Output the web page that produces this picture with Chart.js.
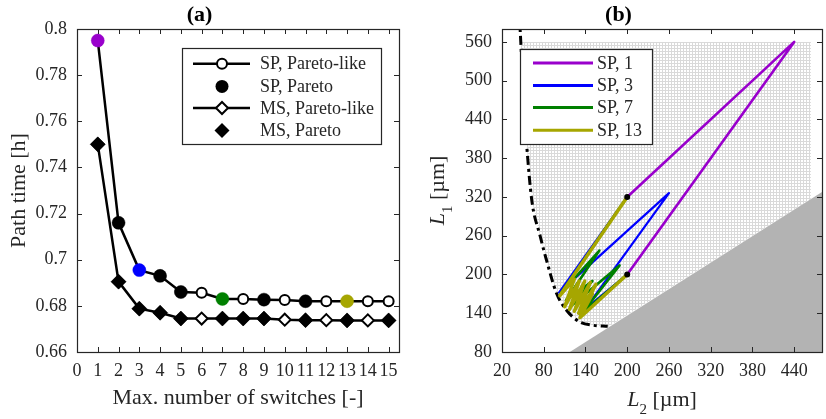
<!DOCTYPE html>
<html>
<head>
<meta charset="utf-8">
<script src="https://cdn.jsdelivr.net/npm/chart.js@4.4.1/dist/chart.umd.min.js"></script>
<style>
  html, body { margin: 0; padding: 0; background: #ffffff; }
  #wrap { position: relative; width: 826px; height: 419px; overflow: hidden; }
  .panel { position: absolute; top: 0; width: 413px; height: 419px; }
  #pa { left: 0; }
  #pb { left: 413px; }
</style>
</head>
<body>
<div id="wrap">
  <div class="panel" id="pa"><canvas id="chartA"></canvas></div>
  <div class="panel" id="pb"><canvas id="chartB"></canvas></div>
</div>
<script>
// ---------- (a) path time against the allowed number of switches ----------
const switches = [1, 2, 3, 4, 5, 6, 7, 8, 9, 10, 11, 12, 13, 14, 15];
const spTime = [0.795, 0.716, 0.6955, 0.693, 0.686, 0.6857, 0.683, 0.683, 0.6827, 0.6825, 0.682, 0.682, 0.682, 0.682, 0.682];
const msTime = [0.750, 0.6905, 0.6788, 0.677, 0.6745, 0.6745, 0.6745, 0.6745, 0.6745, 0.674, 0.6738, 0.6738, 0.6737, 0.6737, 0.6737];
const spPareto = [1, 2, 3, 4, 5, 7, 9, 11, 13];
const msPareto = [1, 2, 3, 4, 5, 7, 8, 9, 11, 13, 15];
const xTicksA = [0, 1, 2, 3, 4, 5, 6, 7, 8, 9, 10, 11, 12, 13, 14, 15];
const xTickLabelsA = ['0', '1', '2', '3', '4', '5', '6', '7', '8', '9', '10', '11', '12', '13', '14', '15'];
const yTicksA = [0.66, 0.68, 0.70, 0.72, 0.74, 0.76, 0.78, 0.80];
const yTickLabelsA = ['0.66', '0.68', '0.7', '0.72', '0.74', '0.76', '0.78', '0.8'];

// ---------- (b) switching paths in the (L2, L1) plane ----------
const sp1L2 = [200, 440, 200];
const sp1L1 = [320, 560, 200];
const sp3L2 = [200, 102, 260, 140, 200];
const sp3L1 = [320, 172, 326, 147, 200];
const sp7L2 = [200, 104, 160, 112, 150, 118, 189, 135, 200];
const sp7L1 = [320, 170, 237, 160, 190, 150, 214, 140, 200];
const sp13L2 = [200, 103, 124, 110, 131, 117, 139, 124, 147, 130, 155, 133, 150, 132, 200];
const sp13L1 = [320, 167, 193, 150, 190, 146, 190, 143, 188, 140, 185, 137, 170, 133, 200];
const endsL2 = [200, 200];
const endsL1 = [320, 200];
const boundL2 = [45, 47, 51, 55.7, 62.8, 74.7, 84, 98.5, 112.8, 131.7, 150.7, 172];
const boundL1 = [600, 560, 470, 397, 315, 260, 222, 170.5, 144.6, 126.5, 121.4, 119.8];
const gridL2 = [47, 51, 55.7, 62.8, 74.7, 84, 98.5, 112.8, 131.7, 150.7, 172, 464, 464];
const gridL1 = [560, 470, 397, 315, 260, 222, 170.5, 144.6, 126.5, 121.4, 118.5, 317, 560];
const blockedL2 = [117.5, 480, 480];
const blockedL1 = [80, 80, 327.6];
const xTicksB = [20, 80, 140, 200, 260, 320, 380, 440];
const yTicksB = [80, 140, 200, 260, 320, 380, 440, 500, 560];

const SERIF = "'Liberation Serif', 'Times New Roman', serif";
const INK = '#262626';
const PURPLE = '#9900cc', BLUE = '#0000ff', GREEN = '#008000', OLIVE = '#a6a600';
const markColor = { 1: PURPLE, 3: BLUE, 7: GREEN, 13: OLIVE };

const pts = (xs, ys) => xs.map((x, i) => ({ x: x, y: ys[i] }));

// rich text (italic symbol + subscript + unit), optionally rotated
function drawRich(ctx, parts, x, y, rotate) {
  ctx.save();
  ctx.translate(x, y);
  if (rotate) ctx.rotate(-Math.PI / 2);
  let total = 0;
  parts.forEach(p => { ctx.font = p.font; p.w = ctx.measureText(p.t).width; total += p.w; });
  let cx = -total / 2;
  ctx.fillStyle = INK;
  ctx.textBaseline = 'alphabetic';
  ctx.textAlign = 'left';
  parts.forEach(p => { ctx.font = p.font; ctx.fillText(p.t, cx, p.dy || 0); cx += p.w; });
  ctx.restore();
}

function drawMarker(ctx, style, x, y, r, fill, stroke, lw) {
  ctx.beginPath();
  if (style === 'circle') {
    ctx.arc(x, y, r, 0, Math.PI * 2);
  } else {
    ctx.moveTo(x - r, y); ctx.lineTo(x, y - r); ctx.lineTo(x + r, y); ctx.lineTo(x, y + r); ctx.closePath();
  }
  ctx.fillStyle = fill; ctx.fill();
  if (lw) { ctx.lineWidth = lw; ctx.strokeStyle = stroke; ctx.stroke(); }
}

// axes box with inward ticks on all four sides
function drawFrame(chart) {
  const ctx = chart.ctx, a = chart.chartArea;
  const xs = chart.scales.x, ys = chart.scales.y;
  const tl = 5;
  ctx.save();
  ctx.strokeStyle = INK;
  ctx.lineWidth = 1;
  ctx.beginPath();
  xs.ticks.forEach(t => {
    const p = Math.round(xs.getPixelForValue(t.value)) + 0.5;
    ctx.moveTo(p, a.bottom); ctx.lineTo(p, a.bottom - tl);
    ctx.moveTo(p, a.top); ctx.lineTo(p, a.top + tl);
  });
  ys.ticks.forEach(t => {
    const p = Math.round(ys.getPixelForValue(t.value)) + 0.5;
    ctx.moveTo(a.left, p); ctx.lineTo(a.left + tl, p);
    ctx.moveTo(a.right, p); ctx.lineTo(a.right - tl, p);
  });
  ctx.stroke();
  ctx.lineWidth = 1.2;
  ctx.strokeRect(Math.round(a.left) + 0.5, Math.round(a.top) + 0.5,
                 Math.round(a.right - a.left), Math.round(a.bottom - a.top));
  ctx.restore();
}

const frameA = {
  id: 'frameA',
  afterDraw(chart) {
    drawFrame(chart);
    const ctx = chart.ctx, a = chart.chartArea;
    const midX = (a.left + a.right) / 2, midY = (a.top + a.bottom) / 2;
    drawRich(ctx, [{ t: 'Max. number of switches [-]', font: '22px ' + SERIF }], midX, 404, false);
    drawRich(ctx, [{ t: 'Path time [h]', font: '22px ' + SERIF }], 25, midY, true);

    // legend box
    const ds = chart.data.datasets;
    const w = 199, h = 96;
    const x0 = Math.round(a.right - 18 - w), y0 = Math.round(a.top + 19);
    ctx.save();
    ctx.fillStyle = '#ffffff';
    ctx.fillRect(x0, y0, w, h);
    ctx.strokeStyle = INK; ctx.lineWidth = 1.2;
    ctx.strokeRect(x0 + 0.5, y0 + 0.5, w, h);
    const rowsY = [15.7, 38.4, 60, 82.4];
    const entries = [ds[2], ds[0], ds[3], ds[1]];
    entries.forEach((d, i) => {
      const yy = y0 + rowsY[i];
      const mx = x0 + 40;
      if (d.showLine) {
        ctx.beginPath();
        ctx.moveTo(x0 + 11, yy); ctx.lineTo(x0 + 68, yy);
        ctx.strokeStyle = '#000'; ctx.lineWidth = 2.5; ctx.stroke();
        drawMarker(ctx, d.pointStyle === 'circle' ? 'circle' : 'diamond', mx, yy,
                   d.pointStyle === 'circle' ? 5 : 6, '#ffffff', '#000', 2);
      } else {
        drawMarker(ctx, d.pointStyle === 'circle' ? 'circle' : 'diamond', mx, yy,
                   d.pointStyle === 'circle' ? 6.5 : 7.5, '#000', '#000', 0);
      }
      ctx.fillStyle = INK;
      ctx.font = '18px ' + SERIF;
      ctx.textBaseline = 'middle';
      ctx.textAlign = 'left';
      ctx.fillText(d.label, x0 + 78, yy + 1);
    });
    ctx.restore();
  }
};

const frameB = {
  id: 'frameB',
  afterDraw(chart) {
    drawFrame(chart);
    const ctx = chart.ctx, a = chart.chartArea;
    const midX = (a.left + a.right) / 2, midY = (a.top + a.bottom) / 2;
    drawRich(ctx, [
      { t: 'L', font: 'italic 22px ' + SERIF },
      { t: '2', font: '15px ' + SERIF, dy: 8 },
      { t: ' [µm]', font: '22px ' + SERIF }
    ], midX, 406, false);
    drawRich(ctx, [
      { t: 'L', font: 'italic 22px ' + SERIF },
      { t: '1', font: '15px ' + SERIF, dy: 8 },
      { t: ' [µm]', font: '22px ' + SERIF }
    ], 31, midY, true);

    // legend box
    const ds = chart.data.datasets.filter(d => d.inLegend);
    const w = 132, h = 95;
    const x0 = Math.round(a.left + 18), y0 = Math.round(a.top + 19.5);
    ctx.save();
    ctx.fillStyle = '#ffffff';
    ctx.fillRect(x0, y0, w, h);
    ctx.strokeStyle = INK; ctx.lineWidth = 1.2;
    ctx.strokeRect(x0 + 0.5, y0 + 0.5, w, h);
    const rowsY = [14, 36.6, 58.6, 81.3];
    ds.forEach((d, i) => {
      const yy = y0 + rowsY[i];
      ctx.beginPath();
      ctx.moveTo(x0 + 13, yy); ctx.lineTo(x0 + 73, yy);
      ctx.strokeStyle = d.borderColor; ctx.lineWidth = 3; ctx.stroke();
      ctx.fillStyle = INK;
      ctx.font = '18px ' + SERIF;
      ctx.textBaseline = 'middle';
      ctx.textAlign = 'left';
      ctx.fillText(d.label, x0 + 77, yy + 1);
    });
    ctx.restore();
  }
};

function fixedTicks(values) {
  return scale => { scale.ticks = values.map(v => ({ value: v })); };
}

function axisCommon(min, max, values, labels, isY, size) {
  return {
    type: 'linear',
    min: min, max: max,
    grid: { display: false, drawTicks: false },
    border: { display: false },
    afterBuildTicks: fixedTicks(values),
    afterFit: isY ? (s => { s.width = size; }) : (s => { s.height = size; }),
    ticks: {
      autoSkip: false, maxRotation: 0, minRotation: 0,
      padding: isY ? 10 : 8,
      color: INK,
      font: { family: SERIF, size: 18 },
      callback: (v, i) => labels[i]
    }
  };
}

const titleOpts = (txt) => ({
  display: true, text: txt, color: '#000',
  font: { family: SERIF, size: 22, weight: 'bold', lineHeight: 1.2 },
  padding: { top: 2, bottom: 0.6 }
});

// ---------- chart (a) ----------
new Chart(document.getElementById('chartA'), {
  type: 'scatter',
  data: {
    datasets: [
      {
        label: 'SP, Pareto',
        data: spPareto.map(n => ({ x: n, y: spTime[n - 1] })),
        showLine: false,
        pointStyle: 'circle',
        pointRadius: 6.5,
        pointBackgroundColor: spPareto.map(n => markColor[n] || '#000'),
        pointBorderColor: spPareto.map(n => markColor[n] || '#000'),
        pointBorderWidth: 0.5,
        order: 1
      },
      {
        label: 'MS, Pareto',
        data: msPareto.map(n => ({ x: n, y: msTime[n - 1] })),
        showLine: false,
        pointStyle: 'rectRot',
        pointRadius: 7.5,
        pointBackgroundColor: '#000',
        pointBorderColor: '#000',
        pointBorderWidth: 0.5,
        order: 2
      },
      {
        label: 'SP, Pareto-like',
        data: pts(switches, spTime),
        showLine: true,
        borderColor: '#000',
        borderWidth: 2.5,
        pointStyle: 'circle',
        pointRadius: 5,
        pointBackgroundColor: '#ffffff',
        pointBorderColor: '#000',
        pointBorderWidth: 2,
        order: 3
      },
      {
        label: 'MS, Pareto-like',
        data: pts(switches, msTime),
        showLine: true,
        borderColor: '#000',
        borderWidth: 2.5,
        pointStyle: 'rectRot',
        pointRadius: 6,
        pointBackgroundColor: '#ffffff',
        pointBorderColor: '#000',
        pointBorderWidth: 2,
        order: 4
      }
    ]
  },
  options: {
    responsive: true,
    maintainAspectRatio: false,
    animation: false,
    events: [],
    layout: { padding: { left: 0, right: 14, top: 0, bottom: 0 } },
    scales: {
      x: axisCommon(0, 15.5, xTicksA, xTickLabelsA, false, 67),
      y: axisCommon(0.66, 0.80, yTicksA, yTickLabelsA, true, 77)
    },
    plugins: {
      legend: { display: false },
      tooltip: { enabled: false },
      title: titleOpts('(a)')
    }
  },
  plugins: [frameA]
});

// ---------- chart (b) ----------
const hatchTile = document.createElement('canvas');
hatchTile.width = 3; hatchTile.height = 3;
const ht = hatchTile.getContext('2d');
ht.fillStyle = '#ffffff'; ht.fillRect(0, 0, 3, 3);
ht.fillStyle = '#d9d9d9'; ht.fillRect(0, 0, 3, 1); ht.fillRect(0, 0, 1, 3);
const canvasB = document.getElementById('chartB');
const hatch = canvasB.getContext('2d').createPattern(hatchTile, 'repeat');

const pathSet = (label, xs, ys, color, width, order) => ({
  label: label, inLegend: true,
  data: pts(xs, ys), showLine: true,
  borderColor: color, borderWidth: width, pointRadius: 0,
  borderJoinStyle: 'round', borderCapStyle: 'round', order: order
});

new Chart(canvasB, {
  type: 'scatter',
  data: {
    datasets: [
      {
        label: 'ends', data: pts(endsL2, endsL1), showLine: false,
        pointRadius: 3, pointBackgroundColor: '#000', pointBorderColor: '#000', pointBorderWidth: 0,
        order: 0
      },
      pathSet('SP, 1', sp1L2, sp1L1, PURPLE, 2.6, 4),
      pathSet('SP, 3', sp3L2, sp3L1, BLUE, 2.2, 3),
      pathSet('SP, 7', sp7L2, sp7L1, GREEN, 2.6, 2),
      pathSet('SP, 13', sp13L2, sp13L1, OLIVE, 3.4, 1),
      {
        label: 'bound', data: pts(boundL2, boundL1), showLine: true,
        borderColor: '#000', borderWidth: 3, borderDash: [9, 4, 3, 4],
        cubicInterpolationMode: 'monotone', pointRadius: 0, order: 5
      },
      {
        label: 'grid', data: pts(gridL2, gridL1), showLine: true,
        borderWidth: 0, borderColor: 'rgba(0,0,0,0)', backgroundColor: hatch,
        fill: 'shape', pointRadius: 0, order: 7
      },
      {
        label: 'blocked', data: pts(blockedL2, blockedL1), showLine: true,
        borderWidth: 0, borderColor: 'rgba(0,0,0,0)', backgroundColor: '#b3b3b3',
        fill: 'shape', pointRadius: 0, order: 6
      }
    ]
  },
  options: {
    responsive: true,
    maintainAspectRatio: false,
    animation: false,
    events: [],
    layout: { padding: { left: 0, right: 2, top: 0, bottom: 0 } },
    scales: {
      x: axisCommon(20, 480, xTicksB, xTicksB.map(String), false, 67),
      y: axisCommon(80, 580, yTicksB, yTicksB.map(String), true, 89)
    },
    plugins: {
      legend: { display: false },
      tooltip: { enabled: false },
      title: titleOpts('(b)')
    }
  },
  plugins: [frameB]
});
</script>
</body>
</html>
